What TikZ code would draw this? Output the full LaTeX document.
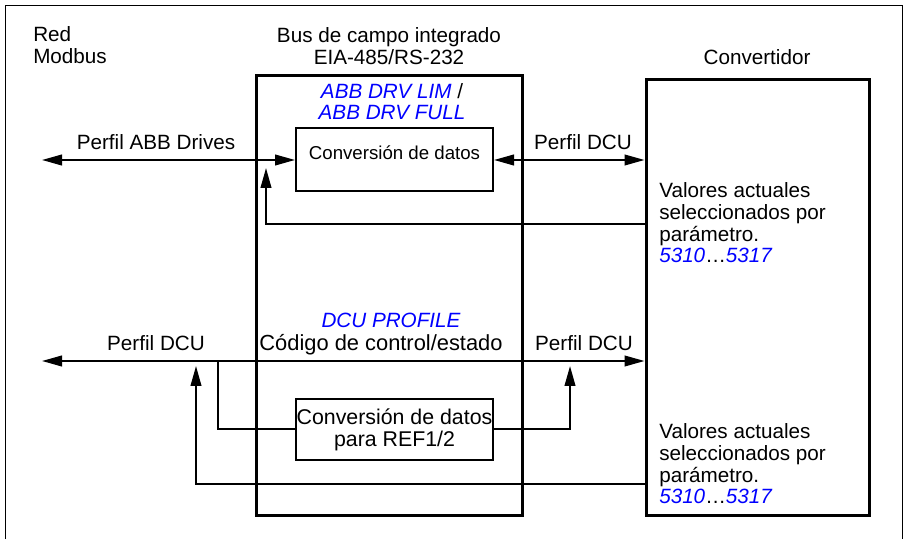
\documentclass[tikz,border=0pt]{standalone}
\usepackage{fontspec}
\setmainfont{Liberation Sans}
\usepackage{xcolor}
\usetikzlibrary{arrows.meta,calc,positioning}
\definecolor{param}{HTML}{0000FF}
\tikzset{
  soft/.style={line width=1.5pt, line cap=butt, line join=miter},
  edge/.style={soft, -{Triangle[length=15pt, width=8pt]}},
  both/.style={soft, {Triangle[length=15pt, width=8pt]}-{Triangle[length=15pt, width=8pt]}},
  unit/.style={draw, line width=2.25pt, inner sep=0pt},
  station/.style={draw, line width=1.5pt, inner sep=0pt, align=center},
  label/.style={inner sep=0pt, align=center},
  note/.style={inner sep=0pt, align=left}
}
\newcommand{\param}[1]{\textcolor{param}{\itshape #1}}

\begin{document}
\begin{tikzpicture}[x=0.75pt,y=0.75pt,font=\fontsize{15.5}{16.2}\selectfont]
\path[use as bounding box] (0,0) rectangle (906,539);
\fill[white] (0,0) rectangle (906,539);
\draw[line width=0.75pt] (5,0) -- (5,533) -- (902,533) -- (902,0);

% boxes
\node[unit, minimum width=199.5pt, minimum height=329.25pt] (bus) at (389,243.5) {};
\node[unit, minimum width=167.25pt, minimum height=326.25pt] (conv) at (757.5,241.5) {};
\node[station, minimum width=147.75pt, minimum height=47.25pt, text height=10pt, text depth=10pt,
  font=\fontsize{14}{15}\selectfont] (cd1) at (394.5,379) {Conversión de datos};
\node[station, minimum width=147.75pt, minimum height=45.75pt,
  font=\fontsize{16}{16.5}\selectfont] (cd2) at (394.5,109.5) {Conversión de datos\\para REF1/2};

% texts
\node[note, anchor=west] (red) at (33,494) {Red\\Modbus};
\node[label] (fieldbus) at (389,493) {Bus de campo integrado\\EIA-485/RS-232};
\node[label] (drive) at (757,482) {Convertidor};
\node[label] (abb) at (392,437.5) {\param{ABB DRV LIM} /\\\param{ABB DRV FULL}};
\node[label] (pABB) at (156,397) {Perfil ABB Drives};
\node[label] (pDCU1) at (583,397) {Perfil DCU};
\node[note, anchor=west] (val1) at (659,316) {Valores actuales\\seleccionados por\\parámetro.\\\param{5310}…\param{5317}};
\node[label] (dcu) at (391,219) {\param{DCU PROFILE}};
\node[label, font=\fontsize{16.4}{17}\selectfont] (cw) at (381,194) {Código de control/estado};
\node[label] (pDCU2) at (156,196) {Perfil DCU};
\node[label] (pDCU3) at (584,196) {Perfil DCU};
\node[note, anchor=west] (val2) at (659,75) {Valores actuales\\seleccionados por\\parámetro.\\\param{5310}…\param{5317}};

% connectors
\coordinate (netA) at (42,379);
\coordinate (netB) at (42,178);
\coordinate (tapA) at (266,371);
\coordinate (tapB) at (196,173);
\coordinate (tapC) at (570,173);
\coordinate (split) at (218,178);
\draw[both] (netA) -- (cd1.west);
\draw[both] (cd1.east) -- (cd1.east -| conv.west);
\draw[edge] (conv.west |- 0,315) -| (tapA);
\draw[both] (netB) -- (netB -| conv.west);
\draw[soft] (split) |- (cd2.west);
\draw[edge] (cd2.east) -| (tapC);
\draw[edge] (conv.west |- 0,55) -| (tapB);
\end{tikzpicture}
\end{document}
